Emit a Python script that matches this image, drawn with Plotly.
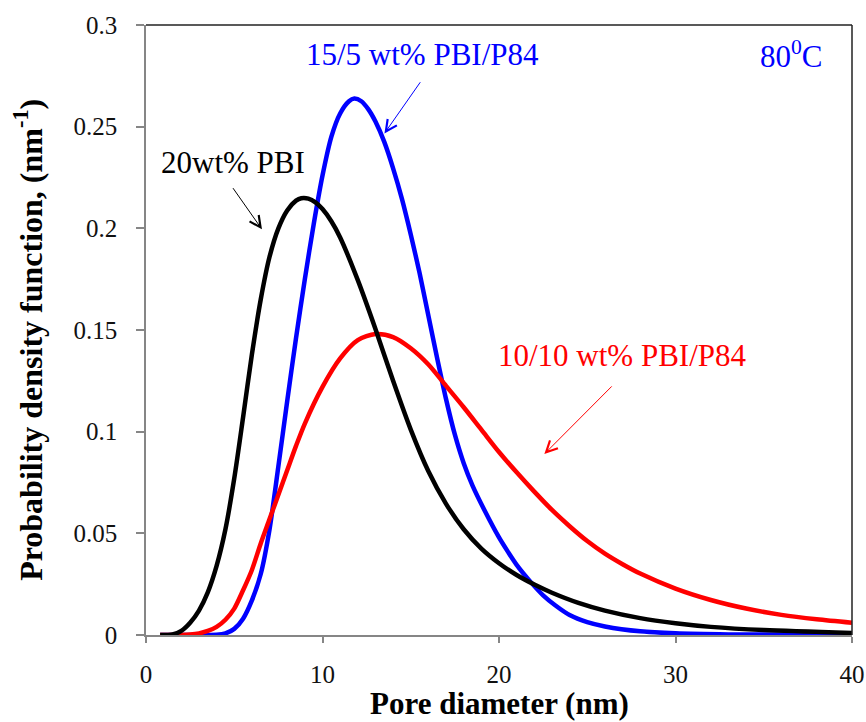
import plotly.graph_objects as go

# Pore-size probability density curves (pore diameter in nm, pdf in nm^-1)
pore_pbi = [0.8, 1.5, 2.0, 2.5, 3.0, 3.5, 4.0, 4.5, 5.0, 5.5, 6.0, 6.5, 7.0, 7.5, 8.0,
            8.5, 8.8, 9.2, 9.6, 10.0, 10.5, 11.0, 12.0, 13.0, 14.0, 15.0, 16.0, 17.0,
            18.0, 19.0, 20.0, 21.0, 22.0, 23.0, 24.5, 26.0, 28.0, 30.0, 32.0, 35.0, 40.0]
pdf_pbi = [0.0, 0.0003, 0.002, 0.006, 0.012, 0.021, 0.034, 0.052, 0.077, 0.107, 0.138,
           0.165, 0.186, 0.200, 0.2088, 0.2136, 0.2148, 0.2146, 0.2128, 0.2095, 0.2035,
           0.1955, 0.1745, 0.1505, 0.125, 0.101, 0.0805, 0.0645, 0.052, 0.0425, 0.0353,
           0.0295, 0.0248, 0.0208, 0.0158, 0.012, 0.0083, 0.0058, 0.004, 0.0024, 0.001]

pore_10_10 = [0.8, 2.5, 3.0, 3.5, 4.0, 4.5, 5.0, 5.5, 6.0, 6.5, 7.0, 7.5, 8.0, 8.5, 9.0,
              10.0, 11.0, 12.0, 13.0, 14.0, 15.0, 16.0, 17.0, 18.0, 19.0, 20.0, 21.0,
              22.0, 23.0, 24.0, 25.0, 26.0, 27.0, 28.0, 30.0, 32.0, 34.0, 36.0, 38.0, 40.0]
pdf_10_10 = [0.0, 0.0003, 0.0008, 0.002, 0.004, 0.0075, 0.013, 0.022, 0.032, 0.045, 0.057,
             0.069, 0.081, 0.093, 0.104, 0.122, 0.136, 0.145, 0.148, 0.1465, 0.141, 0.133,
             0.1225, 0.112, 0.101, 0.090, 0.080, 0.0705, 0.0615, 0.0535, 0.0462, 0.040,
             0.0348, 0.0302, 0.0228, 0.0172, 0.013, 0.0099, 0.0077, 0.006]

pore_15_5 = [0.8, 3.5, 4.0, 4.5, 5.0, 5.5, 6.0, 6.5, 7.0, 7.5, 8.0, 8.5, 9.0, 9.5, 10.0,
             10.5, 11.0, 11.5, 11.8, 12.2, 12.6, 13.0, 13.5, 14.0, 14.5, 15.0, 15.5, 16.0,
             16.5, 17.0, 17.5, 18.0, 18.5, 19.2, 20.0, 20.5, 21.0, 21.8, 22.5, 23.2, 24.0,
             25.0, 26.0, 28.0, 30.0, 33.0, 40.0]
pdf_15_5 = [0.0, 0.0, 0.0001, 0.0008, 0.003, 0.008, 0.017, 0.030, 0.052, 0.083, 0.115,
            0.146, 0.175, 0.202, 0.226, 0.245, 0.2565, 0.2625, 0.2638, 0.2625, 0.2585,
            0.2525, 0.2425, 0.2295, 0.2145, 0.197, 0.178, 0.157, 0.136, 0.116, 0.0985,
            0.0845, 0.0735, 0.061, 0.048, 0.041, 0.0345, 0.026, 0.0195, 0.0145, 0.0098,
            0.0063, 0.0042, 0.0018, 0.0008, 0.0003, 0.0001]

x_ticks = [0, 10, 20, 30, 40]
y_ticks = [0, 0.05, 0.1, 0.15, 0.2, 0.25, 0.3]
y_tick_text = ["0", "0.05", "0.1", "0.15", "0.2", "0.25", "0.3"]

SERIF = "Liberation Serif, Times New Roman, serif"
AXIS_GREY = "#868686"

fig = go.Figure()

# drawn back to front: blue, red, black
for xs, ys, colour in [(pore_15_5, pdf_15_5, "#0000FF"),
                       (pore_10_10, pdf_10_10, "#FF0000"),
                       (pore_pbi, pdf_pbi, "#000000")]:
    fig.add_trace(go.Scatter(x=xs, y=ys, mode="lines",
                             line=dict(color=colour, width=4.5, shape="spline", smoothing=0.8),
                             hoverinfo="skip", showlegend=False))

fig.update_layout(
    width=866, height=722,
    margin=dict(l=146, r=14, t=25, b=87),
    paper_bgcolor="white", plot_bgcolor="white",
    showlegend=False,
    font=dict(family=SERIF, color="#111111"),
)

fig.update_xaxes(range=[0, 40], tickvals=x_ticks, ticktext=[str(v) for v in x_ticks],
                 automargin=False,
                 showgrid=False, zeroline=False, showline=True, linecolor=AXIS_GREY,
                 linewidth=1.5, ticks="outside", ticklen=6, tickcolor=AXIS_GREY,
                 tickwidth=1.5, tickfont=dict(family=SERIF, size=25, color="#111111"),
                 ticklabelstandoff=10)
fig.update_yaxes(range=[0, 0.3], tickvals=y_ticks, ticktext=y_tick_text,
                 automargin=False,
                 showgrid=False, zeroline=False, showline=True, linecolor=AXIS_GREY,
                 linewidth=1.5, ticks="outside", ticklen=8, tickcolor=AXIS_GREY,
                 tickwidth=1.5, tickfont=dict(family=SERIF, size=25, color="#111111"),
                 ticklabelstandoff=14)

# dark frame on the top and right of the plotting area
fig.add_shape(type="line", xref="paper", yref="paper", x0=0, x1=1, y0=1, y1=1,
              line=dict(color="#222222", width=1.5))
fig.add_shape(type="line", xref="paper", yref="paper", x0=1, x1=1, y0=0, y1=1,
              line=dict(color="#222222", width=1.5))

# axis titles
fig.add_annotation(xref="paper", yref="paper", x=0.5, y=-0.112, showarrow=False,
                   text="<b>Pore diameter (nm)</b>", xanchor="center", yanchor="middle",
                   font=dict(family=SERIF, size=31, color="#000000"))
fig.add_annotation(xref="paper", yref="paper", x=-0.167, y=0.484, showarrow=False,
                   text="<b>Probability density function, (nm<sup>-1</sup>)</b>",
                   textangle=-90, xanchor="center", yanchor="middle",
                   font=dict(family=SERIF, size=32, color="#000000"))

# curve labels
labels = [
    ("15/5 wt% PBI/P84", 15.69, 0.2853, "center", "#0000FF"),
    ("80<sup>0</sup>C", 38.49, 0.2853, "right", "#0000FF"),
    ("20wt% PBI", 4.95, 0.2326, "center", "#000000"),
    ("10/10 wt% PBI/P84", 27.02, 0.1377, "center", "#FF0000"),
]
for text, lx, ly, anchor, colour in labels:
    fig.add_annotation(x=lx, y=ly, xref="x", yref="y", text=text, showarrow=False,
                       xanchor=anchor, yanchor="middle",
                       font=dict(family=SERIF, size=31, color=colour))

# pointer arrows (tail -> head) in data coordinates
arrows = [
    (15.60, 0.2726, 13.51, 0.2467, "#0000FF"),
    (4.87, 0.2205, 6.57, 0.1995, "#000000"),
    (26.47, 0.1230, 22.57, 0.0890, "#FF0000"),
]
for tx, ty, hx, hy, colour in arrows:
    fig.add_annotation(x=hx, y=hy, ax=tx, ay=ty, xref="x", yref="y", axref="x", ayref="y",
                       text="", showarrow=True, arrowhead=5, arrowsize=2.2, arrowwidth=1,
                       arrowcolor=colour, standoff=0, startstandoff=0)

fig.write_html("out.html")
